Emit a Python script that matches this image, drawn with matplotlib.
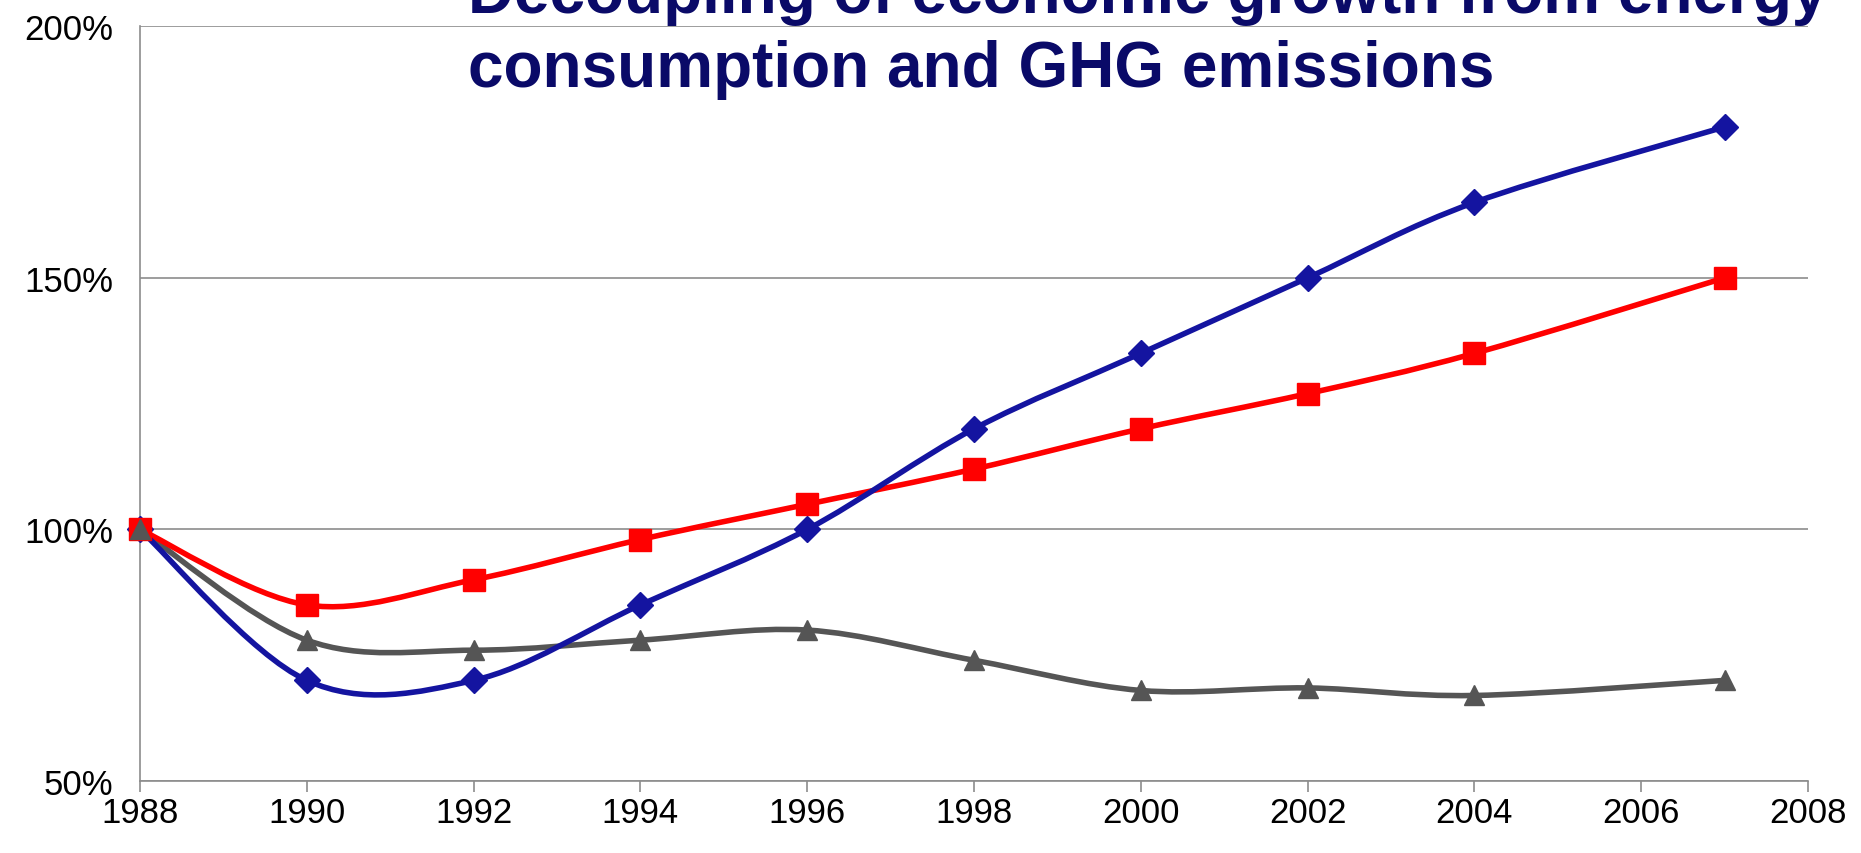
import numpy as np
import matplotlib
matplotlib.use('Agg')
import matplotlib.pyplot as plt
from matplotlib.path import Path
from matplotlib.patches import PathPatch

plt.rcParams['font.family'] = ['Liberation Sans', 'DejaVu Sans']

# data (index, 1988 = 100%)
years = [1988, 1990, 1992, 1994, 1996, 1998, 2000, 2002, 2004, 2007]
gdp = [100, 70, 70, 85, 100, 120, 135, 150, 165, 180]
energy = [100, 85, 90, 98, 105, 112, 120, 127, 135, 150]
ghg = [100, 78, 76, 78, 80, 74, 68, 68.5, 67, 70]

title = 'Decoupling of economic growth from energy\nconsumption and GHG emissions'
xticks = list(range(1988, 2009, 2))
yticks = [50, 100, 150, 200]


def smooth_path(x, y):
    # excel-like smoothed line: catmull-rom segments as cubic bezier
    p = np.column_stack([x, y]).astype(float)
    p_ext = np.vstack([p[0], p, p[-1]])
    verts = [p[0]]
    codes = [Path.MOVETO]
    for i in range(len(p) - 1):
        p0, p1, p2, p3 = p_ext[i], p_ext[i + 1], p_ext[i + 2], p_ext[i + 3]
        c1 = p1 + (p2 - p0) / 6.0
        c2 = p2 - (p3 - p1) / 6.0
        verts += [c1, c2, p2]
        codes += [Path.CURVE4] * 3
    return Path(verts, codes)


fig = plt.figure(figsize=(18.61, 8.54), dpi=100)
ax = fig.add_axes([0.0752, 0.0843, 0.8963, 0.8837])

# (values, colour, marker, marker size, line z, marker z)
series = [
    (gdp, '#1414a0', 'D', 13, 3.2, 4.0),
    (energy, '#ff0000', 's', 16, 3.1, 4.1),
    (ghg, '#555555', '^', 14, 3.0, 4.2),
]
for vals, col, mk, ms, lz, mz in series:
    ax.add_patch(PathPatch(smooth_path(years, vals), fill=False, edgecolor=col, lw=4, zorder=lz))
    ax.plot(years, vals, ls='none', marker=mk, color=col, ms=ms, zorder=mz, clip_on=False)

ax.set_xlim(1988, 2008)
ax.set_ylim(50, 200)
ax.set_xticks(xticks)
ax.set_yticks(yticks)
ax.set_yticklabels(['%d%%' % v for v in yticks])
ax.grid(axis='y', color='#8c8c8c', lw=1.2)
ax.set_axisbelow(True)
for s in ['top', 'right']:
    ax.spines[s].set_visible(False)
for s in ['left', 'bottom']:
    ax.spines[s].set_color('#8c8c8c')
    ax.spines[s].set_linewidth(1.2)
ax.tick_params(axis='x', direction='out', length=8, width=1.2, color='#8c8c8c',
               labelsize=25, pad=3)
ax.tick_params(axis='y', length=0, labelsize=25, pad=19)

fig.text(0.2515, 0.898, title, fontsize=46, fontweight='bold', color='#0a0a68',
         ha='left', va='baseline', linespacing=1.3, zorder=5)

fig.savefig('out.png', dpi=100)
